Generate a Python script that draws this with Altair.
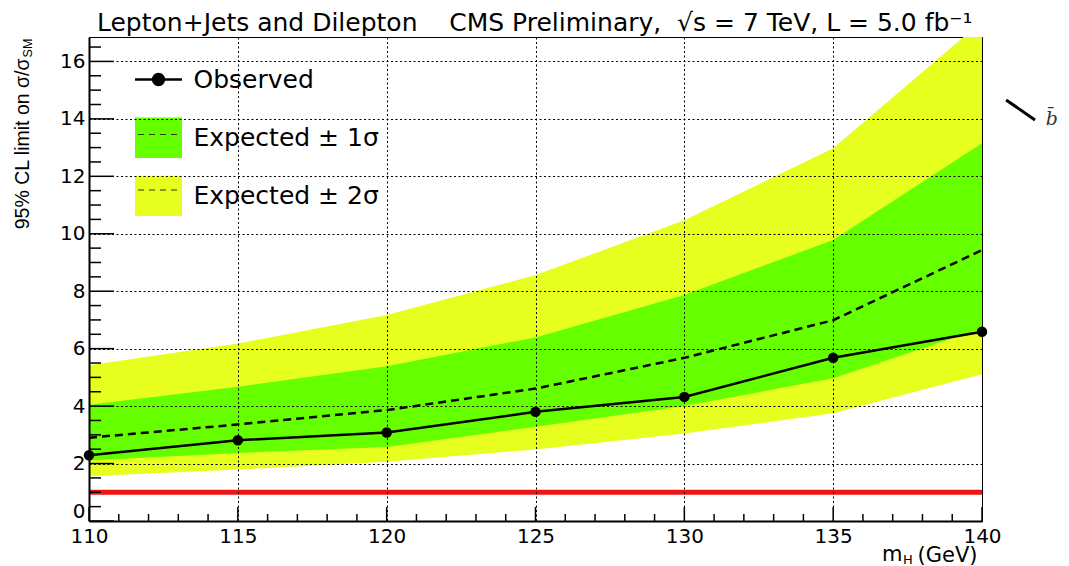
import altair as alt
import pandas as pd

# ---------------- data ----------------
mass = [110, 115, 120, 125, 130, 135, 140]
observed = [2.29, 2.81, 3.08, 3.80, 4.32, 5.68, 6.59]
expected = [2.90, 3.36, 3.86, 4.61, 5.68, 6.99, 9.43]
exp_1s_lo = [2.11, 2.37, 2.58, 3.28, 4.00, 4.97, 6.70]
exp_1s_hi = [4.05, 4.67, 5.39, 6.39, 7.87, 9.78, 13.15]
exp_2s_lo = [1.56, 1.79, 2.06, 2.49, 3.05, 3.75, 5.11]
exp_2s_hi = [5.42, 6.18, 7.17, 8.56, 10.47, 12.98, 17.40]
sm_value = [1.0]

x_ticks_major = [110, 115, 120, 125, 130, 135, 140]
x_ticks_minor = [m for m in range(111, 140) if m % 5 != 0]
y_ticks_major = [0, 2, 4, 6, 8, 10, 12, 14, 16]
y_ticks_minor = [k / 2 for k in range(1, 34) if k % 4 != 0]

legend_labels = ["Observed", "Expected \u00b1 1\u03c3", "Expected \u00b1 2\u03c3"]
legend_dash_keys = ["obs_dash", "exp1_dash", "exp2_dash"]
title_text = ("Lepton+Jets and Dilepton\u00a0\u00a0\u00a0\u00a0CMS Preliminary,\u00a0\u00a0"
              "\u221as = 7 TeV, L = 5.0 fb\u207b\u00b9")
y_title = "95% CL limit on \u03c3/\u03c3"
y_title_sub = ["SM"]
x_title = "(GeV)"
x_title_m = ["m"]
x_title_sub = ["H"]

# stray glyphs at the right of the picture
annot_slash = {"x1": [140.81], "y1": [14.66], "x2": [141.78], "y2": [13.96]}
annot_text = {"x": [142.35], "y": [14.0], "t": ["b\u0304"]}

# ---------------- styling ----------------
GREEN = "#66ff00"
YELLOW = "#e6ff1e"
RED = "#f01414"
SANS = "DejaVu Sans"

df = pd.DataFrame({
    "mass": mass, "obs": observed, "exp": expected,
    "lo1": exp_1s_lo, "hi1": exp_1s_hi, "lo2": exp_2s_lo, "hi2": exp_2s_hi,
})

XS = alt.Scale(domain=[110, 140], nice=False, zero=False)
YS = alt.Scale(domain=[0, 16.85], nice=False, zero=False)

XAX = alt.Axis(values=x_ticks_major, format="d", grid=True, gridColor="black",
               gridDash=[2, 2.5], gridWidth=1, ticks=False, domain=True,
               domainColor="black", domainWidth=2, labelFont=SANS,
               labelFontSize=20, labelColor="black", labelPadding=5,
               labelFlush=False, labelOverlap=False, title=x_title,
               titleFont=SANS, titleFontSize=21, titleFontWeight="normal",
               titleColor="black", titleX=888, titleY=40, titleAlign="right",
               titleBaseline="alphabetic", titleAngle=0, zindex=1)
YAX = alt.Axis(values=y_ticks_major, format="d", grid=True, gridColor="black",
               gridDash=[2, 2.5], gridWidth=1, ticks=False, domain=True,
               domainColor="black", domainWidth=2, labelFont=SANS,
               labelFontSize=20, labelColor="black", labelPadding=4,
               labelFlush=True, labelOverlap=False, title=y_title,
               titleFont="Liberation Sans", titleFontSize=19.5,
               titleFontWeight="normal", titleColor="black", titleAngle=270,
               titleX=-67, titleY=21, titleAlign="right",
               titleBaseline="middle", zindex=1)

X = alt.X("mass:Q", scale=XS, axis=XAX)

band2 = alt.Chart(df).mark_area(color=YELLOW, clip=True).encode(
    x=X, y=alt.Y("lo2:Q", scale=YS, axis=YAX), y2="hi2:Q")
band1 = alt.Chart(df).mark_area(color=GREEN, clip=True).encode(
    x=X, y=alt.Y("lo1:Q", scale=YS, axis=YAX), y2="hi1:Q")

sm_line = alt.Chart(pd.DataFrame({"sm": sm_value})).mark_rule(
    color=RED, strokeWidth=5).encode(y=alt.Y("sm:Q", scale=YS, axis=YAX))

exp_line = alt.Chart(df).mark_line(color="black", strokeWidth=2.5,
                                   strokeDash=[8, 5]).encode(
    x=X, y=alt.Y("exp:Q", scale=YS, axis=YAX))
obs_line = alt.Chart(df).mark_line(color="black", strokeWidth=2.5).encode(
    x=X, y=alt.Y("obs:Q", scale=YS, axis=YAX))
obs_pts = alt.Chart(df).mark_circle(color="black", size=110, opacity=1).encode(
    x=X, y=alt.Y("obs:Q", scale=YS, axis=YAX))

# inner ticks (ROOT style)
ytm = alt.Chart(pd.DataFrame({"v": y_ticks_major})).mark_rule(
    color="black", strokeWidth=1.5).encode(
    y=alt.Y("v:Q", scale=YS, axis=YAX), x=alt.value(0), x2=alt.value(25))
ytn = alt.Chart(pd.DataFrame({"v": y_ticks_minor})).mark_rule(
    color="black", strokeWidth=1.5).encode(
    y=alt.Y("v:Q", scale=YS, axis=YAX), x=alt.value(0), x2=alt.value(12))
xtm = alt.Chart(pd.DataFrame({"v": x_ticks_major})).mark_rule(
    color="black", strokeWidth=1.5).encode(
    x=alt.X("v:Q", scale=XS, axis=XAX), y=alt.value("height"),
    y2=alt.value({"expr": "height - 14"}))
xtn = alt.Chart(pd.DataFrame({"v": x_ticks_minor})).mark_rule(
    color="black", strokeWidth=1.5).encode(
    x=alt.X("v:Q", scale=XS, axis=XAX), y=alt.value("height"),
    y2=alt.value({"expr": "height - 7"}))

# legend (real Vega-Lite legends, invisible carrier marks)
obs_path = ("M-1,-0.86M1,0.86M-1,0H1M-0.23,0A0.23,0.23,0,1,1,0.23,0"
            "A0.23,0.23,0,1,1,-0.23,0Z")
box_path = "M-1,-0.86H1V0.86H-1Z"
dash_path = "M-1,-0.86M1,0.86M-0.85,0H0.85"
LEG_COMMON = dict(title=None, orient="none", legendX=44.5, legendY=17.5,
                  padding=0, symbolSize=2209, symbolOpacity=1,
                  labelFont=SANS, labelFontSize=25, labelOffset=10,
                  labelLimit=400)
LEG = alt.Legend(symbolStrokeWidth=2.5, labelColor="black", rowPadding=6.2,
                 **LEG_COMMON)
legend_layer = alt.Chart(pd.DataFrame({"entry": legend_labels})).mark_point(
    filled=True, opacity=0).encode(
    fill=alt.Fill("entry:N", legend=LEG,
                  scale=alt.Scale(domain=legend_labels,
                                  range=["black", GREEN, YELLOW])),
    stroke=alt.Stroke("entry:N", legend=LEG,
                      scale=alt.Scale(domain=legend_labels,
                                      range=["black", "transparent", "transparent"])),
    shape=alt.Shape("entry:N", legend=LEG,
                    scale=alt.Scale(domain=legend_labels,
                                    range=[obs_path, box_path, box_path])),
)
# dashed "expected" line drawn inside the legend boxes (label-less overlay)
LEG2 = alt.Legend(symbolStrokeWidth=1.2, symbolType=dash_path,
                  labelExpr="''", labelColor="black", rowPadding=7.5,
                  zindex=2, **LEG_COMMON)
legend_dash_layer = alt.Chart(
    pd.DataFrame({"entry_dash": legend_dash_keys})).mark_point(
    color="#2e3a10", opacity=0, filled=False).encode(
    strokeDash=alt.StrokeDash("entry_dash:N", legend=LEG2,
                              scale=alt.Scale(domain=legend_dash_keys,
                                              range=[[0, 100], [6, 5], [6, 5]])),
)

# subscripts of the axis titles
y_sub = alt.Chart(pd.DataFrame({"t": y_title_sub})).mark_text(
    font="Liberation Sans", fontSize=12.5, angle=270, align="center",
    baseline="middle", color="black").encode(
    text="t:N", x=alt.value(-61), y=alt.value(11))
x_m = alt.Chart(pd.DataFrame({"t": x_title_m})).mark_text(
    font=SANS, fontSize=21, align="left", baseline="alphabetic",
    color="black").encode(text="t:N", x=alt.value(793), y=alt.value(524))
x_sub = alt.Chart(pd.DataFrame({"t": x_title_sub})).mark_text(
    font=SANS, fontSize=13, align="left", baseline="alphabetic",
    color="black").encode(text="t:N", x=alt.value(814), y=alt.value(527))

# stray glyphs on the right
slash = alt.Chart(pd.DataFrame(annot_slash)).mark_rule(
    color="black", strokeWidth=3).encode(
    x=alt.X("x1:Q", scale=XS, axis=XAX), x2="x2:Q",
    y=alt.Y("y1:Q", scale=YS, axis=YAX), y2="y2:Q")
bbar = alt.Chart(pd.DataFrame(annot_text)).mark_text(
    font="DejaVu Serif", fontSize=19, fontStyle="italic", color="#333333",
    align="center", baseline="middle").encode(
    x=alt.X("x:Q", scale=XS, axis=XAX), y=alt.Y("y:Q", scale=YS, axis=YAX),
    text="t:N")

chart = alt.layer(
    band2, band1, sm_line, exp_line, obs_line, obs_pts,
    ytm, ytn, xtm, xtn, slash, bbar, legend_layer, legend_dash_layer,
    y_sub, x_m, x_sub,
).properties(
    width=893, height=484,
    padding={"left": 81, "top": 29, "right": 79, "bottom": 45},
    autosize=alt.AutoSizeParams(type="none"),
    title=alt.TitleParams(text=title_text, anchor="start", font=SANS,
                          fontSize=25, fontWeight="normal", color="black",
                          dx=8, dy=27, offset=8, baseline="alphabetic",
                          frame="group"),
).configure_view(stroke="black", strokeWidth=1)

chart.save("out.html", embed_options={"renderer": "svg", "actions": False})
